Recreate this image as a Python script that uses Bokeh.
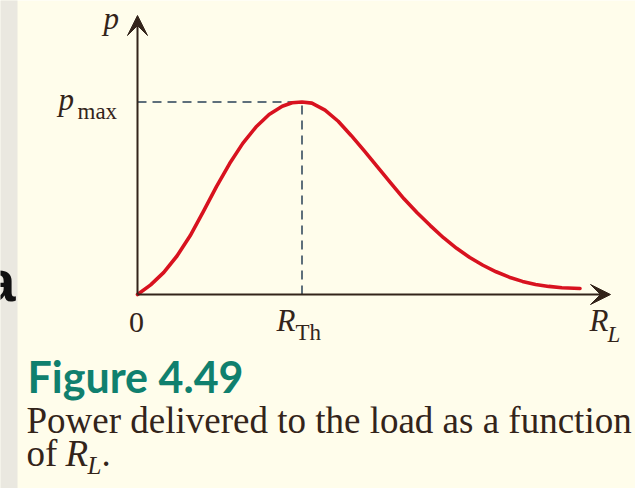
from bokeh.plotting import figure
from bokeh.models import Range1d, Arrow, VeeHead
from bokeh.core.properties import value
from bokeh.embed import file_html
from bokeh.resources import INLINE

# Load resistance R_L in units of R_Th, delivered power p in units of p_max
r_load = [0.00, 0.08, 0.16, 0.24, 0.32, 0.40, 0.48, 0.56, 0.64, 0.72, 0.80,
          0.88, 0.94, 1.00, 1.06, 1.14, 1.22, 1.30, 1.38, 1.46, 1.54, 1.62,
          1.70, 1.78, 1.86, 1.94, 2.02, 2.10, 2.18, 2.26, 2.34, 2.42, 2.50,
          2.58, 2.69]
power = [0.000, 0.050, 0.115, 0.200, 0.305, 0.430, 0.560, 0.680, 0.785, 0.870,
         0.935, 0.978, 0.996, 1.000, 0.994, 0.958, 0.900, 0.825, 0.745, 0.662,
         0.578, 0.497, 0.425, 0.358, 0.295, 0.240, 0.192, 0.152, 0.118, 0.090,
         0.068, 0.052, 0.042, 0.035, 0.031]
r_th = 1.0
p_max = 1.0

W, H = 635, 488
CREAM = "#FFFDEB"
STRIP = "#EAE8E0"
INK = "#33241A"
RED = "#D8121F"
DASH = "#5E6F7B"
TEAL = "#10806E"
SERIF = value("Liberation Serif")

# pixel <-> data helpers (origin of the axes sits at pixel 137, 294)
X0, SX = 137.0, 164.5
Y0, SY = 294.0, 192.5


def dx(px):
    return (px - X0) / SX


def dy(py):
    return (Y0 - py) / SY


p = figure(width=W, height=H, x_range=Range1d(dx(0), dx(W)),
           y_range=Range1d(dy(H), dy(0)), output_backend="svg",
           toolbar_location=None, min_border=0, x_axis_type=None,
           y_axis_type=None, background_fill_color=CREAM,
           border_fill_color=CREAM)
p.grid.visible = False
p.outline_line_color = None

# page margin strip
p.quad(left=dx(-5), right=dx(17), bottom=dy(H + 10), top=dy(-10),
       color=STRIP, line_color=None)

# guide lines to the maximum
p.line([0, r_th], [p_max, p_max], line_color=DASH, line_width=2, line_dash="9 6")
p.line([r_th, r_th], [0, p_max], line_color=DASH, line_width=2, line_dash="9 6")

# power curve
p.line(r_load, power, line_color=RED, line_width=3.6, line_cap="round",
       line_join="round")

# axes with arrow heads
for xe, ye in [(dx(610), 0.0), (0.0, dy(15))]:
    p.add_layout(Arrow(end=VeeHead(size=20, fill_color=INK, line_color=INK,
                                   line_width=1),
                       x_start=0.0, y_start=0.0, x_end=xe, y_end=ye,
                       line_color=INK, line_width=2))


def label(xpx, base_px, s, size, style="normal", align="left", color=INK,
          font=SERIF):
    # base_px is the wanted baseline row; the renderer sits glyphs a little
    # lower than the anchor, so lift the anchor in proportion to the size
    p.text(x=[dx(xpx)], y=[dy(base_px - 0.45 * size)], text=[s],
           text_font=font, text_font_size=f"{size}px",
           text_font_style=style, text_color=color, text_align=align,
           text_baseline="alphabetic")


# stray letter from the neighbouring column, at the page edge
label(15, 306, "a", 58, "bold", align="right", color="#111111",
      font=value("Liberation Sans"))

# axis labels
label(103, 32, "p", 31, "italic")
label(58, 113, "p", 31, "italic")
label(77, 121, "max", 23)
label(136, 335, "0", 30, align="center")
label(276, 334, "R", 31, "italic")
label(295, 342, "Th", 23)
label(589, 334, "R", 31, "italic")
label(607, 344, "L", 23, "italic")

# caption
label(27, 395, "Figure 4.49", 43, "bold", color=TEAL, font=value("Lato"))
label(26, 437, "Power delivered to the load as a function", 37)
label(26, 470, "of", 37)
label(65, 470, "R", 37, "italic")
label(87, 476, "L", 25, "italic")
label(101, 470, ".", 37)

open("out.html", "w").write(file_html(p, INLINE))
